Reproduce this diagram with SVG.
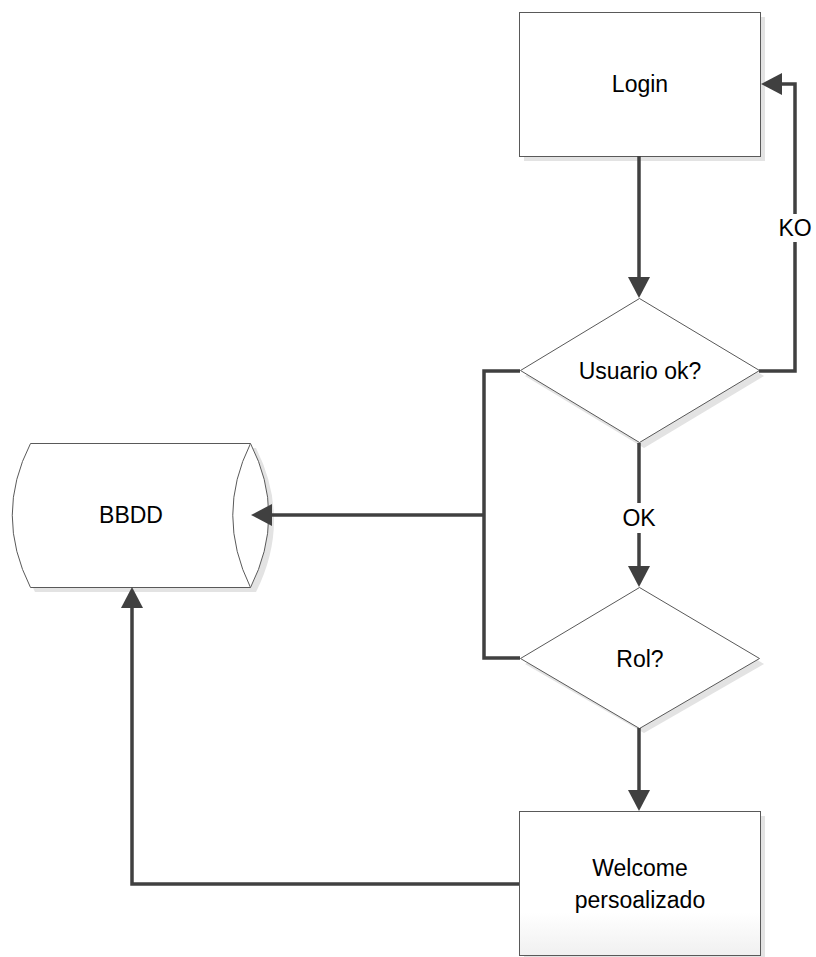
<svg xmlns="http://www.w3.org/2000/svg" width="816" height="957" viewBox="0 0 816 957">
  <style>
    .shape { fill: #ffffff; stroke: #595959; stroke-width: 1; }
    .shadow { fill: #e3e3e3; stroke: none; }
    .label { font-family: "Liberation Sans", Arial, sans-serif; font-size: 23px; fill: #000000; text-anchor: middle; dominant-baseline: central; }
    .conn { fill: none; stroke: #404040; stroke-width: 3.5; stroke-linejoin: miter; }
    .arrow { marker-end: url(#head); }
  </style>
  <defs>
    <marker id="head" markerUnits="userSpaceOnUse" viewBox="0 0 21 22" markerWidth="21" markerHeight="22" refX="0" refY="11" orient="auto">
      <path d="M0,0 L21,11 L0,22 Z" fill="#404040"/>
    </marker>
    <linearGradient id="boxFade" x1="0" y1="0" x2="0" y2="1">
      <stop offset="0.7" stop-color="#ffffff"/>
      <stop offset="1" stop-color="#f0f0f0"/>
    </linearGradient>
  </defs>

  <rect width="816" height="957" fill="#ffffff"/>

  <!-- Login -->
  <g id="login">
    <rect class="shadow" x="524" y="17" width="241" height="144"/>
    <rect class="shape" x="519.5" y="12.5" width="241" height="144"/>
    <text class="label" x="640" y="84">Login</text>
  </g>

  <!-- Usuario ok? -->
  <g id="usuario-ok">
    <polygon class="shadow" points="644,303 764,376 644,448 525,376"/>
    <polygon class="shape" points="639.5,298.5 759.5,370.5 639.5,442.5 520.5,370.5"/>
    <text class="label" x="640" y="371">Usuario ok?</text>
  </g>

  <!-- Rol? -->
  <g id="rol">
    <polygon class="shadow" points="644,592 764,664 644,733 525,664"/>
    <polygon class="shape" points="639.5,587.5 759.5,658.5 639.5,728.5 520.5,658.5"/>
    <text class="label" x="640" y="659">Rol?</text>
  </g>

  <!-- BBDD (stored data) -->
  <g id="bbdd">
    <path class="shadow" d="M35,448 H256 Q292,520 256,592 H35 Q-1,520 35,448 Z"/>
    <path class="shape" d="M30.5,443.5 H250.5 Q287,515 250.5,587.5 H30.5 Q-6,515 30.5,443.5 Z"/>
    <path class="shape" fill="none" d="M250.5,443.5 Q215,515 250.5,587.5"/>
    <text class="label" x="131" y="515">BBDD</text>
  </g>

  <!-- Welcome persoalizado -->
  <g id="welcome">
    <rect class="shadow" x="524" y="816" width="241" height="144"/>
    <rect class="shape" x="519.5" y="811.5" width="241" height="144" style="fill:url(#boxFade)"/>
    <text class="label" x="640" y="868">Welcome</text>
    <text class="label" x="640" y="900">persoalizado</text>
  </g>

  <!-- Connectors -->
  <g id="connectors">
    <path class="conn arrow" d="M639,156 V277"/>
    <path class="conn arrow" d="M759,371 H795 V84 H782"/>
    <path class="conn arrow" d="M639,443 V566"/>
    <path class="conn" d="M520,371 H484 V658 H520"/>
    <path class="conn arrow" d="M484,515 H272"/>
    <path class="conn arrow" d="M639,728 V790"/>
    <path class="conn arrow" d="M519,884 H132 V608"/>
    <rect x="780" y="214" width="30" height="28" fill="#ffffff"/>
    <text class="label" x="795" y="228">KO</text>
    <rect x="621" y="503" width="36" height="30" fill="#ffffff"/>
    <text class="label" x="639" y="518">OK</text>
  </g>
</svg>
